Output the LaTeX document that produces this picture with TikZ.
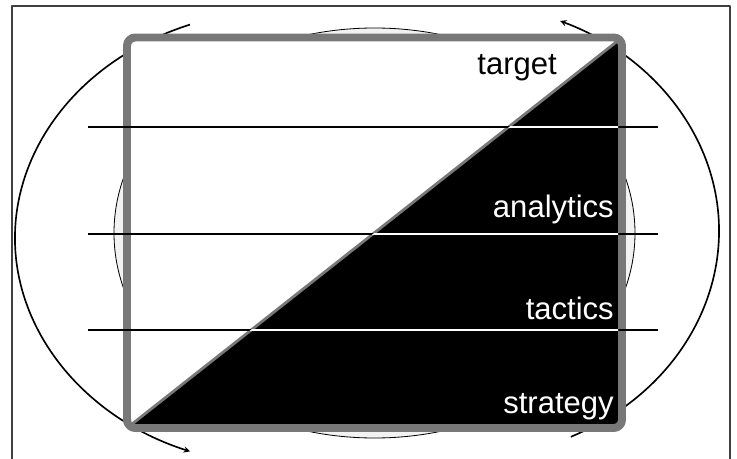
\documentclass[tikz,border=0pt]{standalone}
\usepackage{fontspec}
\setmainfont{Liberation Sans}
\usetikzlibrary{arrows}
\definecolor{bandgray}{RGB}{120,120,120}
\begin{document}
\begin{tikzpicture}[x=0.3mm,y=0.3mm,>=stealth, line join=round,
  lbl/.style={font=\fontsize{26.5}{30}\selectfont, anchor=base east, inner sep=0pt},
  band/.style={draw=bandgray, line width=6.8pt, rounded corners=7pt},
  cyc/.style={->, line width=1.4pt}]
		\def\xl{127} \def\xr{622}
		\def\yb{31} \def\yt{421.5}
		\useasboundingbox (0,0) rectangle (737,459);
		%\draw[color=gray!50,dashed] (0,0) grid[step=50] (737,459);
		\draw[line width=1.2pt, black!75] (12,0)--(12,453)--(730,453)--(730,0);
		% the cycle round it
		\draw[cyc] (285,221) ++(110.6:270 and 228) arc[start angle=110.6, end angle=249.4, x radius=270, y radius=228];
		\draw[cyc] (459,228) ++(-64.5:260 and 228) arc[start angle=-64.5, end angle=67.1, x radius=260, y radius=228];
		\draw[fill=gray!10, line width=0.7pt] (374.5,226) ellipse[x radius=260.5, y radius=205];
		% the box
		\coordinate (bl) at (\xl,\yb); \coordinate (tr) at (\xr,\yt); \coordinate (br) at (\xr,\yb);
		\fill[white, rounded corners=7pt] (bl) rectangle (tr);
		\fill (bl)--(tr)--(br)--cycle;
		\draw[bandgray, line width=2.4pt] (bl)--(tr);
		\draw[band] (bl) rectangle (tr);
		\foreach \y in {332,225,129}
			\draw[line width=1.2pt] (88,\y)--(658,\y);
		\begin{scope}
			\clip (\xl+4,\yb+4)--(\xr-4,\yt-4)--(\xr-4,\yb+4)--cycle;
			\foreach \y in {332,225,129}
				\draw[white, line width=1.2pt] (88,\y)--(658,\y);
		\end{scope}
		\node[lbl] (target) at (557,384) {target};
		\node[lbl, white] (analytics) at (614,241) {analytics};
		\node[lbl, white] (tactics) at (614,139) {tactics};
		\node[lbl, white] (strategy) at (614,45) {strategy};
\end{tikzpicture}
\end{document}
